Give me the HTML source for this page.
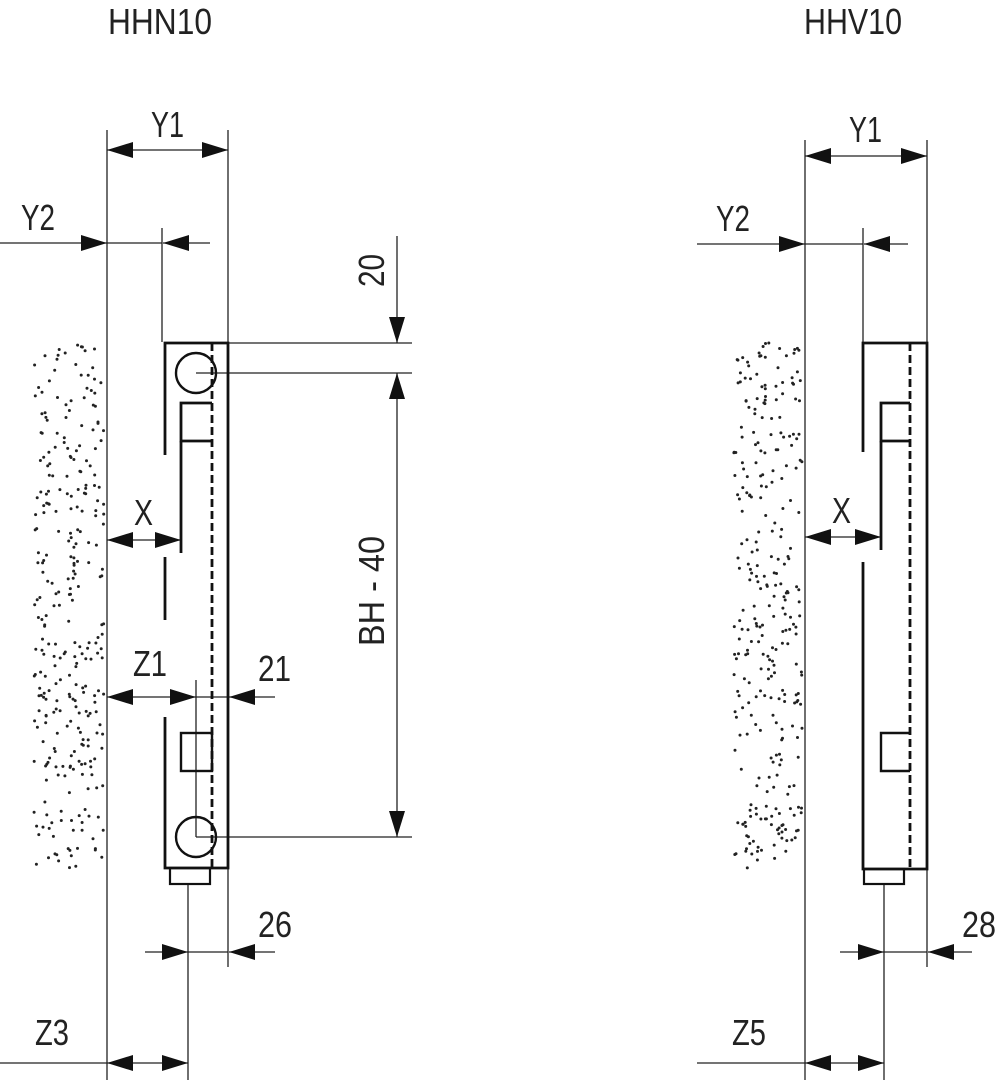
<!DOCTYPE html>
<html><head><meta charset="utf-8"><style>
html,body{margin:0;padding:0;background:#fff;}
svg{display:block;}
text{font-family:"Liberation Sans",sans-serif;font-size:36px;fill:#222;}
</style></head><body>
<svg id="s" width="1000" height="1080" viewBox="0 0 1000 1080" xmlns="http://www.w3.org/2000/svg">
<defs>
<marker id="a" viewBox="0 0 26 16" refX="26" refY="8" markerWidth="26" markerHeight="16" markerUnits="userSpaceOnUse" orient="auto"><path d="M0,0L26,8L0,16z" fill="#111"/></marker>
</defs>
<g stroke="#222" stroke-width="1.3" fill="none">
<line x1="107" y1="130" x2="107" y2="1080"/>
<line x1="228" y1="130" x2="228" y2="967"/>
<line x1="162" y1="228" x2="162" y2="342"/>
<line x1="188" y1="884" x2="188" y2="1080"/>
<line x1="196" y1="680" x2="196" y2="837"/>
<line x1="228" y1="343" x2="412" y2="343"/>
<line x1="196" y1="373" x2="412" y2="373"/>
<line x1="196" y1="837" x2="412" y2="837"/>
<line x1="397" y1="236" x2="397" y2="343" marker-end="url(#a)"/>
<line x1="397" y1="605" x2="397" y2="373" marker-end="url(#a)"/>
<line x1="397" y1="605" x2="397" y2="837" marker-end="url(#a)"/>
<line x1="168" y1="150" x2="107" y2="150" marker-end="url(#a)"/>
<line x1="168" y1="150" x2="228" y2="150" marker-end="url(#a)"/>
<line x1="0" y1="243" x2="107" y2="243" marker-end="url(#a)"/>
<line x1="107" y1="243" x2="162" y2="243"/>
<line x1="210" y1="243" x2="163" y2="243" marker-end="url(#a)"/>
<line x1="144" y1="540" x2="107" y2="540" marker-end="url(#a)"/>
<line x1="144" y1="540" x2="181" y2="540" marker-end="url(#a)"/>
<line x1="150" y1="697" x2="107" y2="697" marker-end="url(#a)"/>
<line x1="150" y1="697" x2="196" y2="697" marker-end="url(#a)"/>
<line x1="196" y1="697" x2="228" y2="697"/>
<line x1="275" y1="697" x2="229" y2="697" marker-end="url(#a)"/>
<line x1="145" y1="952" x2="188" y2="952" marker-end="url(#a)"/>
<line x1="188" y1="952" x2="228" y2="952"/>
<line x1="275" y1="952" x2="229" y2="952" marker-end="url(#a)"/>
<line x1="0" y1="1063" x2="107" y2="1063"/>
<line x1="148" y1="1063" x2="107" y2="1063" marker-end="url(#a)"/>
<line x1="148" y1="1063" x2="188" y2="1063" marker-end="url(#a)"/>
<line x1="805" y1="140" x2="805" y2="1080"/>
<line x1="927" y1="140" x2="927" y2="967"/>
<line x1="863" y1="228" x2="863" y2="342"/>
<line x1="884" y1="884" x2="884" y2="1080"/>
<line x1="866" y1="156" x2="805" y2="156" marker-end="url(#a)"/>
<line x1="866" y1="156" x2="927" y2="156" marker-end="url(#a)"/>
<line x1="697" y1="244" x2="805" y2="244" marker-end="url(#a)"/>
<line x1="805" y1="244" x2="863" y2="244"/>
<line x1="908" y1="244" x2="864" y2="244" marker-end="url(#a)"/>
<line x1="843" y1="537" x2="805" y2="537" marker-end="url(#a)"/>
<line x1="843" y1="537" x2="881" y2="537" marker-end="url(#a)"/>
<line x1="840" y1="952" x2="884" y2="952" marker-end="url(#a)"/>
<line x1="884" y1="952" x2="927" y2="952"/>
<line x1="972" y1="952" x2="928" y2="952" marker-end="url(#a)"/>
<line x1="697" y1="1063" x2="805" y2="1063"/>
<line x1="845" y1="1063" x2="805" y2="1063" marker-end="url(#a)"/>
<line x1="845" y1="1063" x2="884" y2="1063" marker-end="url(#a)"/>
</g>
<g stroke="#111" stroke-width="2.8" fill="none">
<polyline points="165,455 165,343 228,343 228,868 165,868 165,717"/>
<line x1="165" y1="557" x2="165" y2="620"/>
<rect x="170" y="868" width="40" height="16" stroke-width="2.2"/>
<polyline points="212,403 181,403 181,441 212,441"/>
<line x1="181" y1="441" x2="181" y2="553"/>
<rect x="181" y="733" width="31" height="38" stroke-width="2.4"/>
<line x1="212" y1="343" x2="212" y2="868" stroke-dasharray="8,4"/>
<circle cx="196" cy="373" r="20" stroke-width="2.4"/>
<circle cx="196" cy="837" r="20" stroke-width="2.4"/>
<polyline points="863,452 863,343 927,343 927,869 863,869 863,562"/>
<rect x="864" y="869" width="40" height="15" stroke-width="2.2"/>
<polyline points="910,403 881,403 881,441 910,441"/>
<line x1="881" y1="441" x2="881" y2="550"/>
<polyline points="910,733 881,733 881,771 910,771" stroke-width="2.4"/>
<line x1="910" y1="343" x2="910" y2="869" stroke-dasharray="8,4"/>
</g>
<g id="dots" fill="#222"></g>
<text x="108" y="34" textLength="104" lengthAdjust="spacingAndGlyphs">HHN10</text>
<text x="804" y="34" textLength="98" lengthAdjust="spacingAndGlyphs">HHV10</text>
<text x="151" y="137" textLength="33" lengthAdjust="spacingAndGlyphs">Y1</text>
<text x="21" y="230" textLength="34" lengthAdjust="spacingAndGlyphs">Y2</text>
<text x="134" y="525" textLength="19" lengthAdjust="spacingAndGlyphs">X</text>
<text x="133" y="676" textLength="34" lengthAdjust="spacingAndGlyphs">Z1</text>
<text x="258" y="681" textLength="33" lengthAdjust="spacingAndGlyphs">21</text>
<text x="258" y="937" textLength="34" lengthAdjust="spacingAndGlyphs">26</text>
<text x="35" y="1045" textLength="34" lengthAdjust="spacingAndGlyphs">Z3</text>
<text transform="translate(384,287) rotate(-90)" textLength="33" lengthAdjust="spacingAndGlyphs">20</text>
<text transform="translate(384,646) rotate(-90)" textLength="110" lengthAdjust="spacingAndGlyphs">BH - 40</text>
<text x="849" y="142" textLength="33" lengthAdjust="spacingAndGlyphs">Y1</text>
<text x="716" y="231" textLength="34" lengthAdjust="spacingAndGlyphs">Y2</text>
<text x="832" y="523" textLength="19" lengthAdjust="spacingAndGlyphs">X</text>
<text x="962" y="937" textLength="34" lengthAdjust="spacingAndGlyphs">28</text>
<text x="732" y="1045" textLength="34" lengthAdjust="spacingAndGlyphs">Z5</text>
</svg>
<script>
(function(){var g=document.getElementById('dots');var s=12345;function r(){s=(s*1103515245+12345)%2147483648;return s/2147483648;}
var h='';[[107,342,870],[805,342,870]].forEach(function(p){for(var i=0;i<300;i++){var y=p[1]+r()*(p[2]-p[1]);var x=p[0]-3-r()*70;h+='<circle cx="'+x.toFixed(1)+'" cy="'+y.toFixed(1)+'" r="1.5"/>';}});g.innerHTML=h;})();
</script>
</body></html>
